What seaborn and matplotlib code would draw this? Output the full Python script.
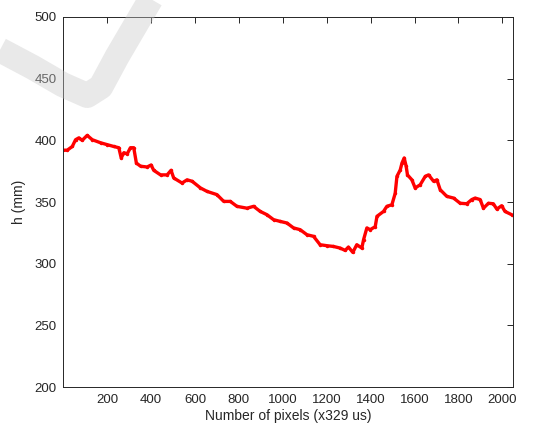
import numpy as np
import pandas as pd
import matplotlib
matplotlib.use('Agg')
import matplotlib.pyplot as plt
import seaborn as sns
from matplotlib.lines import Line2D

# height profile (pixel index, h in mm)
pixel = [1, 18, 41, 56, 71, 86, 109, 132, 170, 200, 230, 253, 264, 276, 291,
         306, 321, 333, 352, 382, 400, 412, 443, 473, 491, 503, 541, 564, 587,
         625, 655, 700, 731, 761, 791, 837, 867, 897, 928, 958, 988, 1019,
         1049, 1079, 1110, 1140, 1170, 1201, 1231, 1261, 1284, 1299, 1319,
         1337, 1360, 1368, 1383, 1398, 1421, 1429, 1459, 1474, 1497, 1512,
         1520, 1535, 1543, 1553, 1562, 1568, 1588, 1603, 1626, 1649, 1664,
         1687, 1702, 1717, 1747, 1778, 1808, 1838, 1861, 1876, 1899, 1914,
         1937, 1959, 1975, 1997, 2012, 2043]
h_mm = [392, 392, 395, 400.5, 402, 400, 404, 400.5, 398, 396.5, 395, 394,
        385.7, 390, 389, 394, 394, 381.6, 379, 378.4, 380, 375.7, 372, 372,
        375.7, 369.5, 365.4, 368, 366.8, 361.4, 358.6, 356, 350.5, 350.5,
        346.5, 345, 346.5, 342.4, 339.7, 335.7, 334.3, 333, 329, 327.6, 323.5,
        322.2, 315.4, 314.6, 314, 312.7, 310.8, 313.5, 309.2, 315.4, 312.7,
        319.5, 329, 327.6, 330, 338.4, 342.4, 346.5, 347.8, 357, 370.8, 376,
        381.6, 385.7, 379, 372, 368, 361.4, 364, 370.8, 372, 366.8, 368, 360,
        354.6, 353.2, 349, 348.6, 352, 353.2, 352, 345, 349, 348.6, 344.3,
        347, 342.4, 339.7]

df = pd.DataFrame({'pixel': pixel, 'h': h_mm})

sns.set_style('white')
plt.rcParams['font.family'] = ['Liberation Sans', 'DejaVu Sans']

fig = plt.figure(figsize=(5.45, 4.34), dpi=100)
ax = fig.add_axes([0.1165, 0.108, 0.8245, 0.853])

sns.lineplot(data=df, x='pixel', y='h', ax=ax, color='#ff0000', linewidth=2.4,
             marker='.', markersize=5, markeredgewidth=0, sort=False)

ax.set_xlim(1, 2048)
ax.set_ylim(200, 500)
ax.set_xticks([200, 400, 600, 800, 1000, 1200, 1400, 1600, 1800, 2000])
ax.set_yticks([200, 250, 300, 350, 400, 450, 500])
ax.tick_params(direction='in', top=True, right=True, length=4, width=0.7,
               labelsize=9.5, colors='#262626', pad=5)
for s in ax.spines.values():
    s.set_color('#262626')
    s.set_linewidth(0.7)
ax.set_xlabel('Number of pixels (x329 us)', fontsize=10, color='#262626', labelpad=2)
ax.set_ylabel('h (mm)', fontsize=10, color='#262626', labelpad=6)

# faint watermark stroke in the top-left corner
wm = Line2D([0.0, 0.06, 0.115, 0.16, 0.185, 0.215, 0.285],
            [0.885, 0.845, 0.805, 0.78, 0.80, 0.87, 1.02],
            transform=fig.transFigure, color='#c8c8c8', alpha=0.4,
            linewidth=18, solid_capstyle='butt', solid_joinstyle='round',
            zorder=10)
fig.add_artist(wm)

fig.savefig('out.png', dpi=100)
